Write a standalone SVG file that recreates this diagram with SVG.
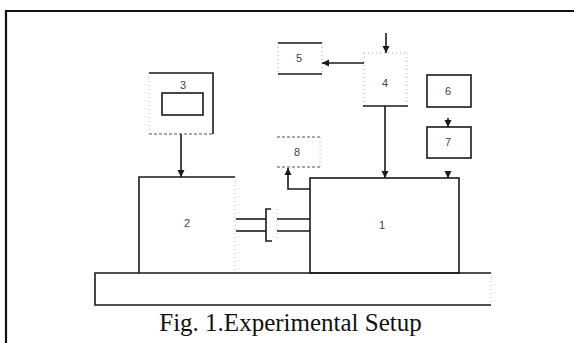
<svg xmlns="http://www.w3.org/2000/svg" width="574" height="343" viewBox="0 0 574 343">
<style>
.ln{stroke:#1a1a1a;stroke-width:1.6;fill:none}
.dot{stroke:#aaa;stroke-width:1;stroke-dasharray:1 3;fill:none}
.dash{stroke:#555;stroke-width:1.2;stroke-dasharray:3 2;fill:none}
.lbl{font-family:"Liberation Sans",Arial,sans-serif;font-size:11px;fill:#444;text-anchor:middle}
.cap{font-family:"Liberation Serif","Times New Roman",serif;font-size:25px;fill:#111;text-anchor:middle}
</style>
<defs>
<marker id="ah" markerUnits="userSpaceOnUse" markerWidth="8" markerHeight="8" viewBox="0 0 8 8" refX="7" refY="4" orient="auto">
<path d="M0,0.5 L7,4 L0,7.5 Z" fill="#1a1a1a"/>
</marker>
</defs>
<rect width="574" height="343" fill="#fff"/>
<g id="frame">
<path d="M6,343 L6,11 L574,11" stroke="#111" stroke-width="2.2" fill="none"/>
</g>
<g id="node-base">
<path class="ln" d="M491,273 L95,273 L95,305 L491,305"/>
<line class="dot" x1="491" y1="273" x2="491" y2="305"/>
</g>
<g id="node-2">
<path class="ln" d="M139,273 L139,177 L235,177"/>
<line class="dot" x1="235" y1="177" x2="235" y2="273"/>
<text class="lbl" x="187" y="227">2</text>
</g>
<g id="node-1">
<rect class="ln" x="310" y="178" width="149" height="95"/>
<text class="lbl" x="382" y="229">1</text>
</g>
<g id="node-3">
<path class="ln" d="M149,73 L213,73 L213,134"/>
<line class="dash" x1="149" y1="134" x2="213" y2="134"/>
<line class="dot" x1="149" y1="73" x2="149" y2="134"/>
<rect class="ln" x="162" y="93" width="41" height="22"/>
<text class="lbl" x="183" y="89">3</text>
</g>
<g id="node-4">
<line class="dot" x1="364" y1="53" x2="407" y2="53"/>
<line class="dot" x1="364" y1="53" x2="364" y2="106"/>
<line class="dot" x1="407" y1="53" x2="407" y2="106"/>
<line class="ln" x1="363" y1="106" x2="408" y2="106"/>
<text class="lbl" x="385" y="87">4</text>
</g>
<g id="node-5">
<line class="ln" x1="278" y1="43" x2="322" y2="43"/>
<line class="ln" x1="278" y1="74" x2="322" y2="74"/>
<line class="dot" x1="278" y1="43" x2="278" y2="74"/>
<line class="dot" x1="322" y1="43" x2="322" y2="74"/>
<text class="lbl" x="299" y="62">5</text>
</g>
<g id="node-6">
<rect class="ln" x="427" y="75" width="44" height="32"/>
<text class="lbl" x="448" y="95">6</text>
</g>
<g id="node-7">
<rect class="ln" x="427" y="127" width="44" height="31"/>
<text class="lbl" x="448" y="146">7</text>
</g>
<g id="node-8">
<line class="dash" x1="277" y1="137" x2="320" y2="137"/>
<line class="dash" x1="277" y1="167" x2="320" y2="167"/>
<line class="dot" x1="320" y1="137" x2="320" y2="167"/>
<text class="lbl" x="297" y="156">8</text>
</g>
<g id="node-coupling">
<line class="ln" x1="236" y1="219" x2="266" y2="219"/>
<line class="ln" x1="236" y1="231" x2="266" y2="231"/>
<line class="ln" x1="277" y1="219" x2="310" y2="219"/>
<line class="ln" x1="277" y1="231" x2="310" y2="231"/>
<path class="ln" d="M271,209 L266,209 L266,241 L272,241"/>
<line class="dot" x1="277" y1="209" x2="277" y2="241"/>
</g>
<g id="connectors">
<line class="ln" x1="386" y1="33" x2="386" y2="53" marker-end="url(#ah)"/>
<line class="ln" x1="364" y1="63" x2="322" y2="63" marker-end="url(#ah)"/>
<line class="ln" x1="385" y1="106" x2="385" y2="178" marker-end="url(#ah)"/>
<line class="ln" x1="181" y1="134" x2="181" y2="177" marker-end="url(#ah)"/>
<line class="ln" x1="448" y1="118" x2="448" y2="127" marker-end="url(#ah)"/>
<line class="ln" x1="448" y1="171" x2="448" y2="178" marker-end="url(#ah)"/>
<polyline class="ln" points="310,189 288,189 288,168" marker-end="url(#ah)"/>
</g>
<text class="cap" x="290.5" y="331">Fig. 1.Experimental Setup</text>
</svg>
